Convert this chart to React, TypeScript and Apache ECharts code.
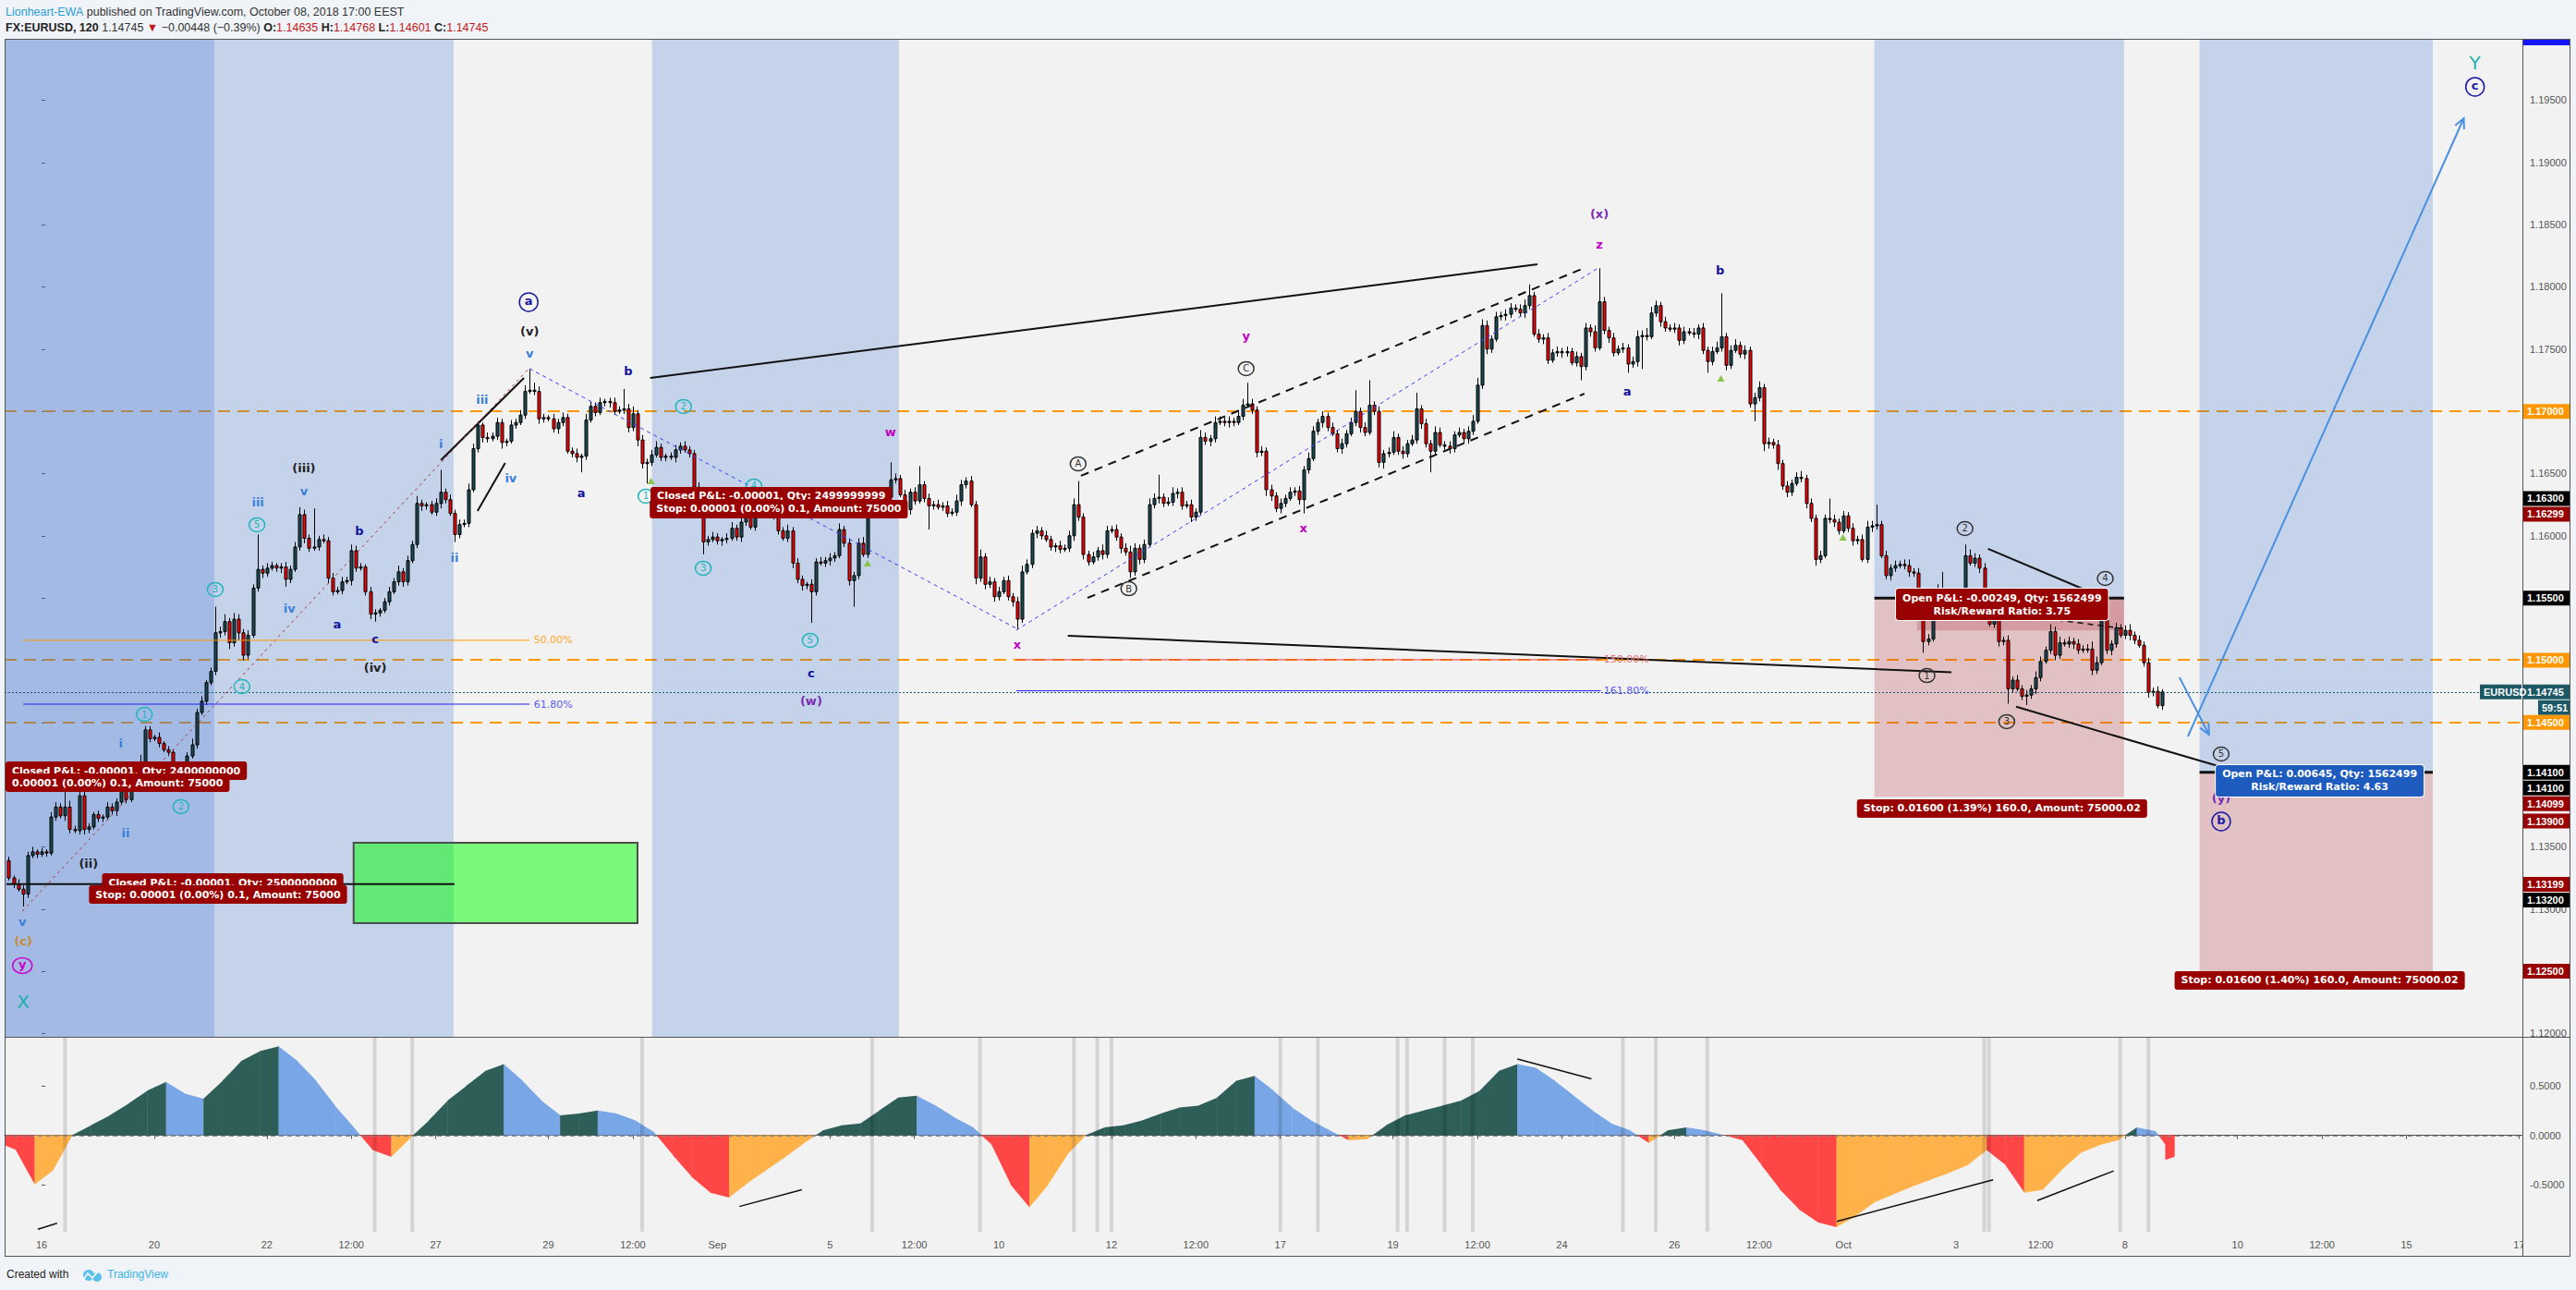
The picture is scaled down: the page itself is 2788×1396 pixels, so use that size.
import React, { useEffect, useRef } from "react";
import * as echarts from "echarts";

const W = 2788;
const H = 1396;
const X_MIN = -7.88;
const X_MAX = 528.7;
const Y_MIN = 1.119736;
const Y_MAX = 1.199938;
const OSC_MIN = -0.985;
const OSC_MAX = 0.995;

// 2-hour EURUSD bars; slot 0 = Aug 16 00:00 EEST, 12 slots per trading day.
const START_SLOT = -7;
// closes in pips above 1.10000
const FIRST_OPEN = 339;
const closes = [
  325, 320, 316, 312, 343, 346, 344, 346, 345, 374,
  382, 375, 382, 364, 363, 391, 364, 366, 376, 373,
  374, 382, 379, 386, 395, 388, 405, 409, 410, 444,
  437, 438, 433, 428, 426, 415, 407, 408, 423, 432,
  458, 467, 482, 491, 522, 523, 531, 514, 533, 522,
  504, 520, 558, 573, 570, 574, 576, 574, 575, 565,
  573, 591, 617, 598, 590, 591, 597, 596, 566, 555,
  556, 563, 564, 588, 574, 575, 555, 537, 538, 540,
  547, 555, 563, 571, 563, 580, 593, 626, 624, 625,
  619, 626, 635, 629, 618, 601, 609, 610, 637, 670,
  689, 679, 678, 680, 691, 675, 676, 689, 691, 697,
  716, 717, 716, 694, 695, 694, 686, 691, 695, 668,
  666, 663, 664, 693, 704, 699, 707, 708, 707, 700,
  701, 702, 687, 698, 677, 658, 659, 665, 671, 663,
  664, 663, 669, 672, 669, 666, 639, 634, 595, 597,
  599, 596, 597, 598, 606, 599, 611, 616, 607, 626,
  617, 618, 618, 617, 604, 598, 604, 578, 565, 560,
  561, 555, 579, 578, 580, 582, 584, 605, 594, 564,
  568, 594, 585, 625, 624, 624, 628, 631, 645, 646,
  633, 621, 635, 628, 641, 630, 624, 625, 623, 624,
  618, 619, 628, 641, 644, 625, 566, 583, 561, 563,
  551, 555, 564, 551, 547, 533, 571, 577, 602, 604,
  600, 597, 591, 592, 589, 590, 600, 625, 615, 585,
  579, 583, 588, 585, 604, 605, 599, 590, 587, 571,
  590, 581, 593, 625, 630, 631, 626, 627, 634, 635,
  624, 625, 615, 619, 679, 676, 678, 691, 692, 691,
  692, 691, 696, 705, 706, 701, 667, 668, 637, 632,
  622, 626, 630, 635, 636, 629, 653, 662, 684, 691,
  696, 687, 682, 670, 674, 682, 691, 700, 687, 683,
  705, 700, 659, 666, 667, 679, 668, 666, 674, 677,
  702, 690, 674, 668, 683, 673, 672, 670, 681, 683,
  678, 684, 692, 721, 769, 750, 758, 776, 777, 778,
  783, 782, 779, 785, 793, 762, 758, 759, 741, 747,
  748, 747, 748, 739, 744, 736, 767, 764, 751, 788,
  765, 759, 747, 750, 751, 738, 740, 760, 761, 760,
  779, 785, 772, 767, 766, 767, 757, 764, 763, 762,
  767, 749, 740, 748, 751, 760, 737, 749, 753, 746,
  749, 706, 711, 719, 674, 675, 673, 658, 640, 635,
  642, 647, 646, 626, 614, 581, 584, 614, 613, 611,
  604, 616, 606, 596, 597, 581, 607, 608, 609, 584,
  568, 574, 576, 577, 576, 571, 570, 538, 515, 517,
  538, 557, 551, 544, 546, 550, 544, 584, 578, 582,
  574, 554, 529, 536, 515, 516, 477, 484, 477, 471,
  472, 477, 486, 499, 508, 523, 504, 514, 513, 515,
  513, 508, 509, 509, 492, 498, 532, 508, 513, 526,
  520, 524, 520, 516, 512, 498, 474, 475, 463.5, 474.5,
];
// wick lengths in pips, one base-36 character per bar
const upperWicks =
  "3243342324 43f5354323 24335234e3 3242323435 3423l46354 343s343234 34643v3434 3435432432 3435343632 34i3434354 " +
  "3243432434 5h64324343 3425434234 3g46343453 2343433453 4324534345 3432435343 2434343534 34563434e4 3434f34343 " +
  "4354343634 3434345434 34324345j3 3435434345 43454i3453 4343643543 4345h43434 3434343543 4343434h34 k343453434 " +
  "d343543434 3456543434 4345934343 434343435r 4343434546 5434343434 34345z3453 4345343434 34534343g4 34343454g3 " +
  "4343453434 54e3434954 3434534343 4354364534 343465h434 3453434342";
const lowerWicks =
  "232a323232 3243234323 3234232324 3232343d32 3232343536 4323432346 3234323243 2324323463 2323432343 2343263232 " +
  "3432353232 3234323432 34c3232343 234354g323 32432345a3 2343234323 3234323434 3p32343234 l323432343 234323j323 " +
  "3234325343 4323483234 3234323434 3234323435 3432343234 3243234323 4323234354 343234b323 4323432343 2345323432 " +
  "343h323432 3432343234 3234323432 34323b3432 34323734q3 2343234323 4393234323 43e3643534 3234353234 3234323432 " +
  "3432343293 2343234323 432343c323 7343234323 4323432343 2343234323";
const lastBar = { open: 1.14635, high: 1.14768, low: 1.14601, close: 1.14745 };

const timeTickSlots = [0, 24, 48, 66, 84, 108, 126, 144, 168, 186, 204, 228, 246, 264, 288, 306, 324, 348, 366, 384, 408, 426, 444, 468, 486, 504, 528];
const timeTickLabels = ["16", "20", "22", "12:00", "27", "29", "12:00", "Sep", "5", "12:00", "10", "12", "12:00", "17", "19", "12:00", "24", "26", "12:00", "Oct", "3", "12:00", "8", "10", "12:00", "15", "17"];
const priceTickValues = [1.12, 1.125, 1.13, 1.135, 1.14, 1.145, 1.15, 1.155, 1.16, 1.165, 1.17, 1.175, 1.18, 1.185, 1.19, 1.195];
const priceLabelValues = [1.12, 1.13, 1.135, 1.16, 1.165, 1.175, 1.18, 1.185, 1.19, 1.195];
const oscLabelValues = [-0.5, 0, 0.5];
const levelPrices = [1.17, 1.15, 1.145];
const currentPrice = 1.14745;

// oscillator, one reading every 4 bars
const osc4 = [
  -0.15, -0.5, -0.35, 0.0, 0.1, 0.2, 0.32, 0.45, 0.54, 0.42,
  0.37, 0.55, 0.75, 0.85, 0.9, 0.75, 0.55, 0.3, 0.08, -0.15,
  -0.22, -0.03, 0.15, 0.35, 0.5, 0.65, 0.72, 0.55, 0.35, 0.2,
  0.22, 0.25, 0.22, 0.15, 0.03, -0.2, -0.42, -0.58, -0.63, -0.48,
  -0.35, -0.22, -0.08, 0.05, 0.1, 0.12, 0.25, 0.38, 0.4, 0.3,
  0.18, 0.08, -0.1, -0.5, -0.73, -0.5, -0.2, 0.0, 0.08, 0.1,
  0.15, 0.22, 0.28, 0.3, 0.38, 0.55, 0.6, 0.45, 0.28, 0.15,
  0.05, -0.05, -0.04, 0.1, 0.2, 0.25, 0.3, 0.35, 0.45, 0.65,
  0.72, 0.68, 0.55, 0.4, 0.25, 0.12, 0.05, -0.08, 0.05, 0.08,
  0.05, 0.0, -0.05, -0.3, -0.55, -0.75, -0.88, -0.93, -0.82, -0.68,
  -0.6, -0.52, -0.45, -0.38, -0.3, -0.15, -0.3, -0.58, -0.55, -0.35,
  -0.18, -0.1, -0.05, 0.08, 0.04, -0.22,
];
const oscMarkerSlots = [5, 71, 79, 128, 177, 200, 220, 225, 228, 264, 272, 289, 291, 299, 305, 337, 344, 355, 414, 415, 443, 449];

// drawing-tool objects in (slot, pips) coordinates
const waveLabels: [string, number, number, string][] = [
  ["(iii)", 55.9, 654.8, "black"], ["v", 55.9, 636.2, "lb"], ["iii", 46.1, 626.6, "lb"], ["5", 45.9, 608.8, "cyanC"],
  ["b", 67.7, 603.6, "navy"], ["3", 37.0, 556.8, "cyanC"], ["iv", 52.8, 541.9, "lb"], ["a", 63.0, 528.6, "navy"],
  ["4", 42.7, 478.8, "cyanC"], ["(iv)", 71.1, 493.7, "black"], ["c", 71.1, 517.4, "navy"], ["1", 21.9, 456.5, "cyanC"],
  ["i", 16.9, 433.5, "lb"], ["2", 29.7, 382.3, "cyanC"], ["ii", 17.9, 360.8, "lb"],
  ["(ii)", 10.0, 336.3, "black"], ["v", -4.1, 289.5, "lb"], ["(c)", -3.9, 273.9, "orange"], ["y", -4.1, 254.6, "magC"],
  ["X", -3.9, 225.6, "cyanBig"], ["a", 103.8, 787.8, "navyC"], ["(v)", 104.0, 764.7, "black"], ["v", 104.0, 746.2, "lb"],
  ["b", 125.0, 732.1, "navy"], ["2", 136.8, 703.9, "cyanC"], ["iii", 93.9, 709.1, "lb"], ["i", 85.1, 673.4, "lb"],
  ["iv", 100.0, 645.9, "lb"], ["a", 115.0, 634.1, "navy"], ["1", 128.8, 631.8, "cyanC"], ["ii", 88.0, 582.1, "lb"],
  ["3", 141.0, 573.9, "cyanC"], ["4", 151.8, 640.0, "cyanC"], ["w", 180.9, 683.1, "mag"], ["5", 163.8, 516.0, "cyanC"],
  ["c", 164.0, 489.3, "navy"], ["(w)", 164.0, 467.0, "purple"], ["x", 207.9, 512.3, "mag"], ["A", 220.9, 657.8, "greyC"],
  ["B", 231.7, 557.5, "greyC"], ["y", 256.7, 760.3, "mag"], ["C", 256.7, 734.3, "greyC"], ["x", 268.9, 605.8, "mag"],
  ["(x)", 332.0, 859.0, "purple"], ["z", 332.0, 833.8, "mag"], ["a", 337.9, 716.4, "navy"], ["b", 357.7, 813.6, "navy"],
  ["1", 401.8, 487.7, "greyC"], ["2", 409.9, 605.8, "greyC"], ["3", 418.8, 450.6, "greyC"], ["4", 439.8, 565.7, "greyC"],
  ["5", 464.5, 424.6, "greyC"], ["(y)", 464.5, 389.0, "purple"], ["b", 464.5, 370.4, "navyC"], ["Y", 518.6, 980.1, "cyanBig"],
  ["c", 518.6, 960.8, "navyC"],
];
// trendlines drawn on the oscillator pane (slot, value)
const oscLines = [
  [314.5, 0.77, 330.3, 0.57],
  [382.6, -0.87, 415.9, -0.45],
  [425.3, -0.66, 441.6, -0.36],
  [-0.8, -0.95, 3.3, -0.89],
  [148.7, -0.72, 162.0, -0.55],
];

const bandColors = ["rgba(55,113,209,0.24)", "rgba(174,46,54,0.25)", "rgba(0,255,0,0.5)"];
const bands = [
  [X_MIN, 87.8, Y_MIN, Y_MAX, 0],
  [X_MIN, 36.8, Y_MIN, Y_MAX, 0],
  [130.1, 182.7, Y_MIN, Y_MAX, 0],
  [390.6, 443.8, 1.155, Y_MAX, 0],
  [390.6, 443.8, 1.139, 1.155, 1],
  [399.7, 443.8, 1.1524, 1.155, 1],
  [459.9, 509.6, 1.141, Y_MAX, 0],
  [459.9, 509.6, 1.125, 1.141, 1],
  [66.5, 127.0, 1.12887, 1.13533, 2],
];

const px = (v: number) => 1.1 + v / 10000;
const wick = (s: string, i: number) => {
  const t = s.replace(/ /g, "");
  const ch = t.charAt(i);
  return ch ? parseInt(ch, 36) : 2;
};

function buildCandles() {
  return closes.map((c, i) => {
    const o = i === 0 ? FIRST_OPEN : closes[i - 1];
    const hi = Math.max(o, c) + wick(upperWicks, i);
    const lo = Math.min(o, c) - wick(lowerWicks, i);
    if (i === closes.length - 1) {
      return [START_SLOT + i, lastBar.open, lastBar.close, lastBar.low, lastBar.high];
    }
    return [START_SLOT + i, px(o), px(c), px(lo), px(hi)];
  });
}

// one segment between consecutive oscillator readings
function buildOsc() {
  const out: number[][] = [];
  for (let k = 0; k < osc4.length; k++) {
    const s1 = START_SLOT + 4 * k + 1.5;
    const v1 = osc4[k];
    const s0 = k === 0 ? X_MIN : s1 - 4;
    const v0 = k === 0 ? v1 + 0.05 : osc4[k - 1];
    out.push([s0, v0, s1, v1]);
  }
  const last = osc4.length - 1;
  out.push([START_SLOT + 4 * last + 1.5, osc4[last], START_SLOT + 459 + 0.5, osc4[last] - 0.03]);
  return out;
}
const oscColors = ["#2d5e57", "#79a6e6", "#ff4646", "#ffb24a"];
const oscColorFor = (v0: number, v1: number, v: number) => {
  if (v >= 0) return v1 >= v0 ? oscColors[0] : oscColors[1];
  return v1 <= v0 ? oscColors[2] : oscColors[3];
};

function buildOption() {
  return {
    animation: false,
    backgroundColor: "#f0f3f7",
    textStyle: { fontFamily: "Liberation Sans" },
    grid: [
      { left: 5, top: 42, width: 2725, height: 1080, show: false },
      { left: 5, top: 1122, width: 2725, height: 212, show: false },
    ],
    xAxis: [
      { type: "value", gridIndex: 0, min: X_MIN, max: X_MAX, show: false },
      {
        type: "value", gridIndex: 1, min: X_MIN, max: X_MAX,
        splitLine: { show: false },
        axisLine: { show: true, lineStyle: { color: "#555", width: 1 } },
        axisTick: { show: true, customValues: timeTickSlots, length: 4, lineStyle: { color: "#555" } },
        axisLabel: {
          customValues: timeTickSlots, color: "#555", fontSize: 11, fontFamily: "Liberation Sans", margin: 7,
          formatter: (v: number) => {
            let best = 0;
            timeTickSlots.forEach((t, i) => { if (Math.abs(t - v) < Math.abs(timeTickSlots[best] - v)) best = i; });
            return timeTickLabels[best];
          },
        },
      },
    ],
    yAxis: [
      {
        type: "value", gridIndex: 0, position: "right", min: Y_MIN, max: Y_MAX,
        splitLine: { show: false }, axisLine: { show: false },
        axisTick: { show: true, customValues: priceTickValues, length: 4, lineStyle: { color: "#555" } },
        axisLabel: { customValues: priceLabelValues, color: "#555", fontSize: 11, fontFamily: "Liberation Sans", margin: 8, formatter: (v: number) => v.toFixed(5) },
      },
      {
        type: "value", gridIndex: 1, position: "right", min: OSC_MIN, max: OSC_MAX,
        splitLine: { show: false }, axisLine: { show: false },
        axisTick: { show: true, customValues: oscLabelValues, length: 4, lineStyle: { color: "#555" } },
        axisLabel: { customValues: oscLabelValues, color: "#555", fontSize: 11, fontFamily: "Liberation Sans", margin: 8, formatter: (v: number) => v.toFixed(4) },
      },
    ],
    series: [
      {
        type: "custom", name: "levels", xAxisIndex: 0, yAxisIndex: 0, z: 1,
        data: levelPrices.map((p) => [0, p]),
        renderItem: (params: any, api: any) => {
          const cs = params.coordSys;
          const y = Math.round(api.coord([0, api.value(1)])[1]);
          return { type: "line", shape: { x1: cs.x, y1: y, x2: cs.x + cs.width, y2: y }, style: { stroke: "#ff9800", lineWidth: 2, lineDash: [13, 8] } };
        },
      },
      {
        type: "custom", name: "zones", xAxisIndex: 0, yAxisIndex: 0, z: 1,
        data: bands,
        renderItem: (params: any, api: any) => {
          const a = api.coord([api.value(0), api.value(3)]);
          const b = api.coord([api.value(1), api.value(2)]);
          const c = api.value(4);
          return {
            type: "rect",
            shape: { x: a[0], y: a[1], width: b[0] - a[0], height: b[1] - a[1] },
            style: { fill: bandColors[c], stroke: c === 2 ? "#4d4d4d" : null, lineWidth: c === 2 ? 2 : 0 },
          };
        },
      },
      {
        type: "custom", name: "EURUSD", xAxisIndex: 0, yAxisIndex: 0, z: 2,
        data: buildCandles(),
        renderItem: (params: any, api: any) => {
          const s = api.value(0), o = api.value(1), c = api.value(2), l = api.value(3), h = api.value(4);
          const pO = api.coord([s, o]), pC = api.coord([s, c]), pL = api.coord([s, l]), pH = api.coord([s, h]);
          const x = Math.round(pO[0]) + 0.5;
          const top = Math.min(pO[1], pC[1]);
          const bot = Math.max(pO[1], pC[1]);
          const up = c >= o;
          return {
            type: "group",
            children: [
              { type: "line", shape: { x1: x, y1: pH[1], x2: x, y2: pL[1] }, style: { stroke: "#000", lineWidth: 1 } },
              { type: "rect", shape: { x: x - 1.5, y: top, width: 3, height: Math.max(1, bot - top) }, style: { fill: up ? "#1d4b56" : "#ff0000", stroke: "#000", lineWidth: 1 } },
            ],
          };
        },
      },
      {
        type: "custom", name: "osc", xAxisIndex: 1, yAxisIndex: 1, z: 2,
        data: buildOsc(),
        renderItem: (params: any, api: any) => {
          const s0 = api.value(0), v0 = api.value(1), s1 = api.value(2), v1 = api.value(3);
          const polys: any[] = [];
          const seg = (a0: number, b0: number, a1: number, b1: number) => {
            const p0 = api.coord([a0, b0]), p1 = api.coord([a1, b1]);
            const z0 = api.coord([a0, 0]), z1 = api.coord([a1, 0]);
            polys.push({
              type: "polygon",
              shape: { points: [[z0[0], z0[1]], [p0[0], p0[1]], [p1[0] + 0.4, p1[1]], [z1[0] + 0.4, z1[1]]] },
              style: { fill: oscColorFor(v0, v1, (b0 + b1) / 2) },
            });
          };
          if ((v0 > 0 && v1 < 0) || (v0 < 0 && v1 > 0)) {
            const t = v0 / (v0 - v1);
            const sm = s0 + (s1 - s0) * t;
            seg(s0, v0, sm, 0);
            seg(sm, 0, s1, v1);
          } else {
            seg(s0, v0, s1, v1);
          }
          return { type: "group", children: polys };
        },
      },
      {
        type: "custom", name: "marks", xAxisIndex: 1, yAxisIndex: 1, z: 3,
        data: oscMarkerSlots.map((s) => [s, 0]),
        renderItem: (params: any, api: any) => {
          const cs = params.coordSys;
          const a = api.coord([api.value(0) - 0.4, 0]);
          const b = api.coord([api.value(0) + 0.4, 0]);
          return { type: "rect", shape: { x: a[0], y: cs.y + 1, width: b[0] - a[0], height: cs.height - 2 }, style: { fill: "rgba(0,0,0,0.12)" } };
        },
      },
    ],
  };
}

const labelStyles: any = {
  black: { c: "#222" }, lb: { c: "#3a80db" }, navy: { c: "#12129c" }, orange: { c: "#c98a2e" },
  purple: { c: "#7a2db3" }, mag: { c: "#c000c0" },
};

function buildGraphics(chart: any) {
  const P = (s: number, v: number) => chart.convertToPixel({ gridIndex: 0 }, [s, px(v)]) as number[];
  const PY = (price: number) => (chart.convertToPixel({ gridIndex: 0 }, [0, price]) as number[])[1];
  const OP = (s: number, val: number) => chart.convertToPixel({ gridIndex: 1 }, [s, val]) as number[];
  const g: any[] = [];
  const ln = (x1: number, y1: number, x2: number, y2: number, stroke: string, lineWidth = 1, lineDash: any = null, z = 30) =>
    g.push({ type: "line", silent: true, z, shape: { x1, y1, x2, y2 }, style: { stroke, lineWidth, lineDash } });
  const dl = (s1: number, v1: number, s2: number, v2: number, stroke: string, w = 1, dash: any = null) => {
    const a = P(s1, v1), b = P(s2, v2);
    ln(a[0], a[1], b[0], b[1], stroke, w, dash);
  };
  const txt = (x: number, y: number, text: string, fill: string, fontSize: number, fontWeight = "normal", align = "center", extra: any = {}, z = 40) =>
    g.push({ type: "text", silent: true, z, x, y, style: { text, fill, fontSize, fontWeight, fontFamily: "DejaVu Sans", align, verticalAlign: "middle", ...extra } });

  // frame
  g.push({ type: "rect", silent: true, z: -20, shape: { x: 5.5, y: 42.5, width: 2776, height: 1317 }, style: { fill: "#f2f2f2", stroke: "#555", lineWidth: 1 } });

  // trendlines
  dl(129.7, 726.8, 318.8, 818.2, "#111", 2);
  dl(218.7, 519.7, 407.0, 490.3, "#111", 2);
  dl(414.8, 589.5, 437.7, 553.1, "#111", 2);
  dl(420.8, 462.6, 463.7, 415.1, "#111", 2);
  dl(85.1, 660.8, 102.8, 726.8, "#111", 2);
  dl(92.9, 619.9, 98.8, 658.5, "#111", 2);
  dl(221.5, 648.2, 328.8, 815.3, "#111", 2, [9, 7]);
  dl(222.9, 550.1, 328.8, 714.2, "#111", 2, [9, 7]);
  dl(104.0, 734.3, 207.7, 525.6, "#3a3aff", 1, [4, 4]);
  dl(207.7, 524.1, 331.8, 815.3, "#3a3aff", 1, [4, 4]);
  dl(-4.1, 298.4, 103.8, 734.3, "#b03030", 1, [3, 4]);
  dl(429.6, 532.3, 443.4, 525.6, "#111", 1.5, [6, 5]);
  // fib levels
  dl(-3.9, 516.0, 104.0, 516.0, "#ff9800", 1);
  dl(-3.9, 464.7, 104.0, 464.7, "#2020ee", 1);
  dl(207.7, 500.4, 332.3, 500.4, "#e53935", 1);
  dl(207.7, 475.4, 332.3, 475.4, "#2020ee", 1);
  {
    let p = P(104.9, 516.0); txt(p[0], p[1], "50.00%", "#ffa726", 11, "normal", "left");
    p = P(104.9, 464.7); txt(p[0], p[1], "61.80%", "#5c5cf0", 11, "normal", "left");
    p = P(332.9, 500.4); txt(p[0], p[1], "150.00%", "#e57373", 11, "normal", "left");
    p = P(332.9, 475.4); txt(p[0], p[1], "161.80%", "#5c5cf0", 11, "normal", "left");
  }
  // entry lines
  dl(-7.5, 320, 88, 320, "#111", 2);
  dl(390.6, 550, 443.8, 550, "#111", 3);
  dl(459.9, 410, 509.6, 410, "#111", 3);
  // current price dotted line
  {
    const y = Math.round(PY(currentPrice)) + 0.5;
    ln(5, y, 2730, y, "#1c5866", 1, [2, 2], 25);
  }
  // arrows
  const arrow = (s1: number, v1: number, s2: number, v2: number) => {
    const a = P(s1, v1), b = P(s2, v2);
    ln(a[0], a[1], b[0], b[1], "#4a8fe0", 2);
    const ang = Math.atan2(b[1] - a[1], b[0] - a[0]);
    const L = 12;
    const l1 = [b[0] - L * Math.cos(ang - 0.45), b[1] - L * Math.sin(ang - 0.45)];
    const l2 = [b[0] - L * Math.cos(ang + 0.45), b[1] - L * Math.sin(ang + 0.45)];
    g.push({ type: "polyline", silent: true, z: 30, shape: { points: [l1, b, l2] }, style: { stroke: "#4a8fe0", lineWidth: 2, fill: null } });
  };
  arrow(457.4, 438.7, 516.2, 935.5);
  arrow(455.6, 486.3, 461.9, 440.3);
  // small signal triangles
  [[176.0, 577.6], [129.9, 643.7], [357.9, 726.1], [383.9, 598.4]].forEach(([s, v]) => {
    const p = P(s, v);
    g.push({ type: "polygon", silent: true, z: 30, shape: { points: [[p[0], p[1] - 4], [p[0] - 4, p[1] + 3], [p[0] + 4, p[1] + 3]] }, style: { fill: "#8bc34a" } });
  });

  // oscillator trendlines
  oscLines.forEach(([s1, v1, s2, v2]) => {
    const a = OP(s1, v1), b = OP(s2, v2);
    ln(a[0], a[1], b[0], b[1], "#111", 1.5, null, 30);
  });

  // position / trade labels
  const box = (s: number, v: number, text: string, bg: string, border: string | null, align = "center") => {
    const p = P(s, v);
    txt(align === "left" ? 6 : p[0], p[1], text, "#fff", 11, "bold", align, { backgroundColor: bg, padding: [3, 7, 3, 7], borderRadius: 3, borderColor: border, borderWidth: border ? 1 : 0, lineHeight: 14 }, 45);
  };
  box(11.4, 411.2, "Closed P&L: -0.00001, Qty: 2400000000", "#990000", null, "left");
  box(13.4, 401.5, "0.00001 (0.00%) 0.1, Amount: 75000", "#990000", null, "left");
  box(38.6, 321.3, "Closed P&L: -0.00001, Qty: 2500000000", "#990000", null);
  box(37.6, 311.7, "Stop: 0.00001 (0.00%) 0.1, Amount: 75000", "#990000", null);
  box(155.5, 631.8, "Closed P&L: -0.00001, Qty: 2499999999", "#990000", null);
  box(157.1, 621.4, "Stop: 0.00001 (0.00%) 0.1, Amount: 75000", "#990000", null);
  box(417.8, 544.9, "Open P&L: -0.00249, Qty: 1562499\nRisk/Reward Ratio: 3.75", "#990000", "#ffffff");
  box(417.8, 380.8, "Stop: 0.01600 (1.39%) 160.0, Amount: 75000.02", "#990000", null);
  box(485.5, 403.1, "Open P&L: 0.00645, Qty: 1562499\nRisk/Reward Ratio: 4.63", "#1e5bbf", "#ffffff");
  box(485.5, 242.7, "Stop: 0.01600 (1.40%) 160.0, Amount: 75000.02", "#990000", null);

  // wave labels
  waveLabels.forEach(([t, s, v, kind]) => {
    const p = P(s, v);
    if (kind === "cyanC" || kind === "greyC" || kind === "navyC" || kind === "magC") {
      const col = kind === "cyanC" ? "#22b5bd" : kind === "greyC" ? "#333" : kind === "navyC" ? "#1a1aa0" : "#cc00cc";
      const rx = kind === "navyC" ? 10 : kind === "magC" ? 10.5 : 8.5;
      const ry = kind === "navyC" ? 10 : kind === "magC" ? 8.5 : 7.5;
      g.push({ type: "ellipse", silent: true, z: 40, shape: { cx: p[0], cy: p[1], rx, ry }, style: { fill: null, stroke: col, lineWidth: 1.5 } });
      const big = kind === "navyC" || kind === "magC";
      txt(p[0], p[1] + (big ? -1 : 0), t, col, big ? 13 : 10, big ? "bold" : "normal");
    } else if (kind === "cyanBig") {
      txt(p[0], p[1], t, "#1ab0b0", 20, "normal");
    } else {
      txt(p[0], p[1], t, labelStyles[kind].c, 13, "bold");
    }
  });

  // pane/axis frame lines
  ln(5, 42.5, 2781, 42.5, "#555", 1, null, 61);
  ln(5.5, 42, 5.5, 1359, "#555", 1, null, 61);
  ln(5, 1122.5, 2781, 1122.5, "#555", 1, null, 61);
  ln(2730.5, 42, 2730.5, 1359, "#555", 1, null, 61);
  ln(5, 1359.5, 2781.5, 1359.5, "#555", 1, null, 61);
  ln(2781.5, 42, 2781.5, 1359, "#555", 1, null, 61);
  // last date label sits under the price scale
  g.push({ type: "rect", silent: true, z: 60, shape: { x: 2731, y: 1335, width: 50, height: 24 }, style: { fill: "#f2f2f2" } });

  // oscillator zero line
  {
    const y = Math.round(OP(0, 0)[1]) + 0.5;
    ln(5, y, 2730, y, "#8a8a8a", 1, [5, 4], 20);
  }

  // price scale tags
  const tag = (y: number, text: string, bg: string, x = 2731, w = 50) => {
    g.push({ type: "rect", silent: true, z: 62, shape: { x, y: y - 8, width: w, height: 16 }, style: { fill: bg } });
    g.push({ type: "text", silent: true, z: 63, x: x + 4, y, style: { text, fill: "#fff", fontSize: 11, fontWeight: "bold", fontFamily: "Liberation Sans", align: "left", verticalAlign: "middle" } });
  };
  g.push({ type: "rect", silent: true, z: 62, shape: { x: 2731, y: 43, width: 50, height: 6 }, style: { fill: "#1414ff" } });
  tag(PY(1.17), "1.17000", "#ff9800");
  tag(PY(1.163), "1.16300", "#000");
  tag(PY(1.163) + 17, "1.16299", "#990000");
  tag(PY(1.155), "1.15500", "#000");
  tag(PY(1.15), "1.15000", "#ff9800");
  tag(PY(currentPrice), "1.14745", "#1c5866");
  tag(PY(currentPrice) + 17, "59:51", "#1c5866", 2747, 34);
  tag(PY(1.145), "1.14500", "#ff9800");
  tag(PY(1.141), "1.14100", "#000");
  tag(PY(1.141) + 17, "1.14100", "#000");
  tag(PY(1.141) + 34, "1.14099", "#990000");
  tag(PY(1.139) + 26, "1.13900", "#990000");
  tag(PY(1.13199), "1.13199", "#990000");
  tag(PY(1.13199) + 17, "1.13200", "#000");
  tag(PY(1.125), "1.12500", "#990000");
  tag(PY(currentPrice), "EURUSD", "#1c5866", 2684, 45);

  // header
  g.push({
    type: "text", silent: true, z: 70, x: 6, y: 13,
    style: {
      text: "{a|Lionheart-EWA}{b| published on TradingView.com, October 08, 2018 17:00 EEST}",
      verticalAlign: "middle", align: "left",
      rich: {
        a: { fill: "#2a9fd6", fontSize: 12.5, fontFamily: "Liberation Sans" },
        b: { fill: "#333", fontSize: 12.5, fontFamily: "Liberation Sans" },
      },
    },
  });
  g.push({
    type: "text", silent: true, z: 70, x: 6, y: 30,
    style: {
      text: "{k|FX:EURUSD, 120}{n| 1.14745 }{r|▼}{n| −0.00448 (−0.39%) }{k|O:}{r|1.14635}{k| H:}{r|1.14768}{k| L:}{r|1.14601}{k| C:}{r|1.14745}",
      verticalAlign: "middle", align: "left",
      rich: {
        k: { fill: "#222", fontSize: 12.5, fontWeight: "bold", fontFamily: "Liberation Sans" },
        n: { fill: "#333", fontSize: 12.5, fontFamily: "Liberation Sans" },
        r: { fill: "#c21a1a", fontSize: 12.5, fontFamily: "Liberation Sans" },
      },
    },
  });
  // footer
  txt(7, 1379, "Created with", "#222", 12, "normal", "left", { fontFamily: "Liberation Sans" }, 70);
  g.push({ type: "circle", silent: true, z: 70, shape: { cx: 96, cy: 1380, r: 6 }, style: { fill: "#5bc0ea" } });
  g.push({ type: "circle", silent: true, z: 70, shape: { cx: 105, cy: 1382, r: 5 }, style: { fill: "#5bc0ea" } });
  g.push({ type: "polyline", silent: true, z: 71, shape: { points: [[90, 1385], [95, 1378], [100, 1383], [107, 1375]] }, style: { stroke: "#fff", lineWidth: 1.5, fill: null } });
  txt(116, 1379, "TradingView", "#3bb4e5", 12, "normal", "left", { fontFamily: "Liberation Sans" }, 70);
  return g;
}

export default function App() {
  const ref = useRef<HTMLDivElement>(null);
  useEffect(() => {
    const el = ref.current as HTMLDivElement;
    const chart = echarts.init(el, null, { renderer: "svg", width: W, height: H });
    chart.setOption(buildOption() as any);
    chart.setOption({ graphic: buildGraphics(chart) } as any);
    return () => chart.dispose();
  }, []);
  return <div ref={ref} style={{ position: "absolute", left: 0, top: 0, width: W, height: H }} />;
}
